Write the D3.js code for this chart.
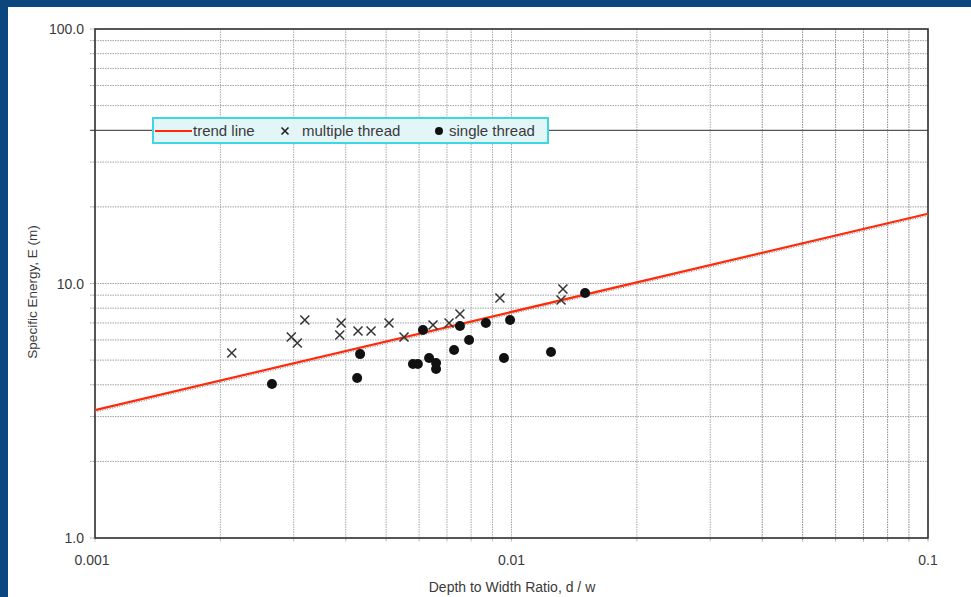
<!DOCTYPE html>
<html>
<head>
<meta charset="utf-8">
<script src="https://cdn.jsdelivr.net/npm/d3@7"></script>
<style>
  body { margin: 0; background: #0b477e; }
  svg { display: block; }
  text { font-family: "Liberation Sans", Arial, sans-serif; fill: #3a3a3a; }
</style>
</head>
<body>
<svg width="971" height="597"></svg>
<script>
var outerWidth = 971;
var outerHeight = 597;
var margin = { left: 95, top: 29, right: 43, bottom: 59 };

// multiple thread points (d/w, E)
var multiX = [0.00213, 0.00296, 0.00306, 0.00319, 0.00390, 0.00387, 0.00428, 0.00460,
              0.00508, 0.00552, 0.00648, 0.00708, 0.00752, 0.00938, 0.01329, 0.01315];
var multiY = [5.33, 6.16, 5.84, 7.19, 7.00, 6.28, 6.51, 6.51,
              7.00, 6.16, 6.87, 7.00, 7.59, 8.77, 9.51, 8.61];

// single thread points
var singleX = [0.00266, 0.00426, 0.00433, 0.00580, 0.00596, 0.00613, 0.00634, 0.00659, 0.00659,
               0.00728, 0.00752, 0.00791, 0.00868, 0.00959, 0.00992, 0.01244, 0.01502];
var singleY = [4.03, 4.25, 5.28, 4.83, 4.83, 6.57, 5.10, 4.87, 4.61,
               5.48, 6.81, 6.00, 7.00, 5.10, 7.19, 5.38, 9.18];

// trend line end points
var trendX = [0.001, 0.1];
var trendY = [3.18, 18.8];

var xTicks = [0.001, 0.01, 0.1];
var xTickLabels = ["0.001", "0.01", "0.1"];
var yTicks = [1, 10, 100];
var yTickLabels = ["1.0", "10.0", "100.0"];
var legendLabels = ["trend line", "multiple thread", "single thread"];

var xScale = d3.scaleLog().domain([0.001, 0.1]).range([margin.left, outerWidth - margin.right]);
var yScale = d3.scaleLog().domain([1, 100]).range([outerHeight - margin.bottom, margin.top]);

var svg = d3.select("svg");

// white page, blue frame shows on top and left
svg.append("rect")
  .attr("x", 8).attr("y", 7)
  .attr("width", outerWidth - 8).attr("height", outerHeight - 7)
  .attr("fill", "#fff");

var x0 = xScale.range()[0], x1 = xScale.range()[1];
var y0 = yScale.range()[0], y1 = yScale.range()[1];

// grid (all log ticks, dotted like the scan)
var xGrid = xScale.ticks();
var yGrid = yScale.ticks();

var grid = svg.append("g");
grid.selectAll(".vx").data(xGrid).enter().append("line")
  .attr("x1", function(d) { return xScale(d); })
  .attr("x2", function(d) { return xScale(d); })
  .attr("y1", y1).attr("y2", y0 + 4)
  .attr("stroke", function(d) { return d >= 0.04 ? "#888" : "#a8a8a8"; })
  .attr("stroke-width", 1)
  .attr("stroke-dasharray", "1.5,1");
grid.selectAll(".hy").data(yGrid).enter().append("line")
  .attr("x1", x0 - 5).attr("x2", x1)
  .attr("y1", function(d) { return yScale(d); })
  .attr("y2", function(d) { return yScale(d); })
  .attr("stroke", function(d) { return d === 40 ? "#555" : "#a0a0a0"; })
  .attr("stroke-width", function(d) { return d === 40 ? 1.3 : 1; })
  .attr("stroke-dasharray", function(d) { return d === 40 ? null : "1.5,1"; });

// frame
svg.append("rect")
  .attr("x", x0).attr("y", y1)
  .attr("width", x1 - x0).attr("height", y0 - y1)
  .attr("fill", "none").attr("stroke", "#333").attr("stroke-width", 1.6);

// tick labels
svg.selectAll(".xl").data(xTicks).enter().append("text")
  .attr("x", function(d) { return xScale(d) - (d === 0.001 ? 3 : 0); })
  .attr("y", y0 + 27)
  .attr("text-anchor", "middle")
  .attr("font-size", 14)
  .text(function(d, i) { return xTickLabels[i]; });
svg.selectAll(".yl").data(yTicks).enter().append("text")
  .attr("x", x0 - 11)
  .attr("y", function(d) { return yScale(d) + 5; })
  .attr("text-anchor", "end")
  .attr("font-size", 14)
  .text(function(d, i) { return yTickLabels[i]; });

// axis titles
svg.append("text")
  .attr("x", 512).attr("y", 592)
  .attr("text-anchor", "middle")
  .attr("font-size", 14)
  .text("Depth to Width Ratio, d / w");
svg.append("text")
  .attr("transform", "translate(37,292) rotate(-90)")
  .attr("text-anchor", "middle")
  .attr("font-size", 13.5)
  .text("Specific Energy, E (m)");

// trend line
var trendData = trendX.map(function(d, i) { return [d, trendY[i]]; });
var line = d3.line()
  .x(function(d) { return xScale(d[0]); })
  .y(function(d) { return yScale(d[1]); });
svg.append("path").datum(trendData)
  .attr("d", line)
  .attr("transform", "translate(0,2)")
  .attr("fill", "none").attr("stroke", "#888").attr("stroke-width", 1)
  .attr("stroke-dasharray", "1,1.5");
svg.append("path").datum(trendData)
  .attr("d", line)
  .attr("fill", "none").attr("stroke", "#ff2a0a").attr("stroke-width", 2.2);

// multiple thread crosses
var crossPath = "M-4.5,-4.5L4.5,4.5M-4.5,4.5L4.5,-4.5";
svg.selectAll(".mt").data(multiX).enter().append("path")
  .attr("transform", function(d, i) { return "translate(" + xScale(d) + "," + yScale(multiY[i]) + ")"; })
  .attr("d", crossPath)
  .attr("stroke", "#333").attr("stroke-width", 1.5).attr("fill", "none");

// single thread dots
svg.selectAll(".st").data(singleX).enter().append("circle")
  .attr("cx", function(d) { return xScale(d); })
  .attr("cy", function(d, i) { return yScale(singleY[i]); })
  .attr("r", 5)
  .attr("fill", "#111");

// legend
var legend = svg.append("g").attr("transform", "translate(153,118)");
legend.append("rect")
  .attr("width", 395).attr("height", 25)
  .attr("fill", "#e2f5f7").attr("stroke", "#3fd6e2").attr("stroke-width", 2);
legend.append("line")
  .attr("x1", 2).attr("x2", 39).attr("y1", 13).attr("y2", 13)
  .attr("stroke", "#ff2a0a").attr("stroke-width", 2);
legend.append("path")
  .attr("transform", "translate(132,13)")
  .attr("d", "M-3.5,-3.5L3.5,3.5M-3.5,3.5L3.5,-3.5")
  .attr("stroke", "#222").attr("stroke-width", 1.6);
legend.append("circle")
  .attr("cx", 286).attr("cy", 13).attr("r", 4).attr("fill", "#111");
var legendX = [40, 149, 296];
legend.selectAll(".lt").data(legendLabels).enter().append("text")
  .attr("x", function(d, i) { return legendX[i]; })
  .attr("y", 18)
  .attr("font-size", 15)
  .text(function(d) { return d; });
</script>
</body>
</html>
